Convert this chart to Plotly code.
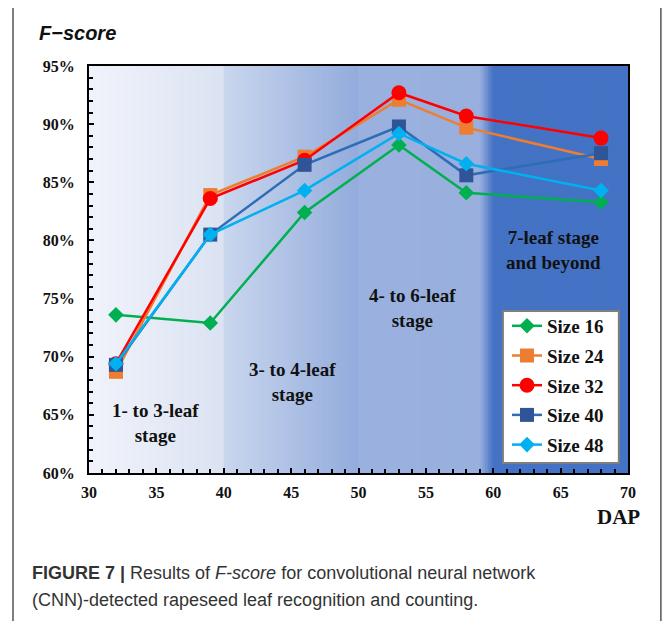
import plotly.graph_objects as go

dap = [32, 39, 46, 53, 58, 68]
size16 = [0.736, 0.729, 0.824, 0.882, 0.841, 0.833]
size24 = [0.687, 0.839, 0.872, 0.921, 0.897, 0.870]
size32 = [0.694, 0.836, 0.869, 0.927, 0.907, 0.888]
size40 = [0.693, 0.805, 0.865, 0.898, 0.856, 0.875]
size48 = [0.694, 0.805, 0.843, 0.892, 0.866, 0.843]
series_names = ["Size 16", "Size 24", "Size 32", "Size 40", "Size 48"]
stage_labels = ["1- to 3-leaf<br>stage", "3- to 4-leaf<br>stage", "4- to 6-leaf<br>stage", "7-leaf stage<br>and beyond"]
stage_x = [34.9, 45.1, 54.0, 64.5]
stage_y = [0.643, 0.678, 0.742, 0.792]

SERIF = "Liberation Serif, Times New Roman, serif"
SANS = "Liberation Sans, Arial, sans-serif"

fig = go.Figure()
styles = [
    dict(color="#00b050", lc="#00b050", symbol="diamond", size=12),
    dict(color="#ed7d31", lc="#ed7d31", symbol="square", size=14),
    dict(color="#ff0000", lc="#ff0000", symbol="circle", size=15),
    dict(color="#2f5597", lc="#2e6db5", symbol="square", size=14),
    dict(color="#00b0f0", lc="#00b0f0", symbol="diamond", size=12),
]
for name, ys, st in zip(series_names, [size16, size24, size32, size40, size48], styles):
    fig.add_trace(go.Scatter(
        x=dap, y=ys, name=name, mode="lines+markers", legendgroup=name,
        line=dict(color=st["lc"], width=2.5),
        marker=dict(color=st["color"], symbol=st["symbol"], size=st["size"]),
    ))

# background gradient stripes
def lerp(c1, c2, t):
    a = [int(c1[i:i+2], 16) for i in (1, 3, 5)]
    b = [int(c2[i:i+2], 16) for i in (1, 3, 5)]
    return "rgb(%d,%d,%d)" % tuple(round(a[k] + (b[k] - a[k]) * t) for k in range(3))

segments = [
    (30, 40, "#f0f3fa", "#dbe2f2"),
    (40, 50, "#c9d6ee", "#93acdc"),
    (50, 59, "#9ab1df", "#99b0de"),
    (59, 60, "#99b0de", "#4472c4"),
    (60, 70, "#4472c4", "#4472c4"),
]
shapes = []
for x0, x1, c0, c1 in segments:
    n = max(1, int((x1 - x0) / 0.2))
    for i in range(n):
        a = x0 + (x1 - x0) * i / n
        b = x0 + (x1 - x0) * (i + 1) / n
        ext = 0.15 if b < 69.99 else 0.0
        shapes.append(dict(type="rect", xref="x", yref="y", x0=a, x1=b + ext, y0=0.60, y1=0.95,
                           fillcolor=lerp(c0, c1, (i + 0.5) / n), line=dict(width=0), layer="below"))
# outer frame
shapes.append(dict(type="rect", xref="paper", yref="paper", x0=-0.141, x1=1.061, y0=-0.45, y1=1.145,
                   line=dict(color="#555555", width=1.5), fillcolor="rgba(0,0,0,0)"))
# legend box
shapes.append(dict(type="rect", xref="paper", yref="paper", x0=0.768, x1=0.983, y0=0.0246, y1=0.398,
                   line=dict(color="#7f7f7f", width=2), fillcolor="white", layer="above"))

annotations = []
for t, x, y in zip(stage_labels, stage_x, stage_y):
    annotations.append(dict(text="<b>" + t + "</b>", x=x, y=y, xref="x", yref="y", showarrow=False,
                            font=dict(family=SERIF, size=19, color="#111111"), align="center"))
annotations += [
    dict(text="<b><i>F−score</i></b>", x=-0.096, y=1.081, xref="paper", yref="paper", xanchor="left",
         yanchor="middle", showarrow=False, font=dict(family=SANS, size=20, color="#111111")),
    dict(text="<b>DAP</b>", x=0.983, y=-0.108, xref="paper", yref="paper", xanchor="center",
         yanchor="middle", showarrow=False, font=dict(family=SERIF, size=21, color="#111111")),
    dict(text="<b>FIGURE 7 |</b> Results of <i>F-score</i> for convolutional neural network",
         x=-0.1095, y=-0.2457, xref="paper", yref="paper", xanchor="left", yanchor="middle",
         showarrow=False, font=dict(family=SANS, size=18, color="#333333")),
    dict(text="(CNN)-detected rapeseed leaf recognition and counting.",
         x=-0.1095, y=-0.312, xref="paper", yref="paper", xanchor="left", yanchor="middle",
         showarrow=False, font=dict(family=SANS, size=18, color="#333333")),
]

fig.update_layout(
    width=664, height=613,
    margin=dict(l=81, r=44, t=58, b=148),
    paper_bgcolor="white", plot_bgcolor="white",
    shapes=shapes, annotations=annotations,
    showlegend=True,
    legend=dict(x=0.7755, y=0.408, xanchor="left", yanchor="top", bgcolor="rgba(0,0,0,0)",
                borderwidth=0, traceorder="grouped", tracegroupgap=2,
                font=dict(family=SERIF, size=19, color="#111111", weight="bold")),
    xaxis=dict(range=[30, 70], dtick=5, tick0=30, ticks="inside", ticklen=5, tickwidth=1.5,
               tickcolor="black", showgrid=False, zeroline=False, showline=True, linecolor="black",
               linewidth=2, mirror=True, ticklabelstandoff=4,
               minor=dict(dtick=1, ticks="inside", ticklen=4, tickcolor="black", showgrid=False),
               tickfont=dict(family=SERIF, size=16, color="#111111", weight="bold")),
    yaxis=dict(range=[0.60, 0.95], dtick=0.05, tick0=0.60, tickformat=".0%", ticks="inside",
               ticklen=5, tickwidth=1.5, tickcolor="black", showgrid=False, zeroline=False,
               showline=True, linecolor="black", linewidth=2, mirror=True, ticklabelstandoff=9,
               minor=dict(dtick=0.01, ticks="inside", ticklen=4, tickcolor="black", showgrid=False),
               tickfont=dict(family=SERIF, size=16, color="#111111", weight="bold")),
)
fig.update_traces(cliponaxis=False)

fig.write_html("out.html")
